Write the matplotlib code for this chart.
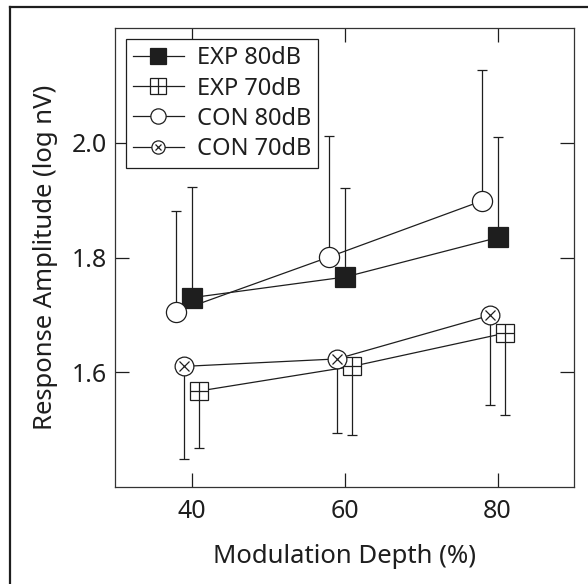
import matplotlib
matplotlib.use("Agg")
import matplotlib.pyplot as plt
import numpy as np
from matplotlib.lines import Line2D
from matplotlib.legend_handler import HandlerTuple

plt.rcParams['font.family'] = ['Noto Sans', 'DejaVu Sans']
plt.rcParams['font.weight'] = 'light'

# Modulation depth (%) and group means (log nV) with one-sided error bars
depth = [40, 60, 80]
exp80_mean = [1.730, 1.766, 1.835]
exp80_err = [0.193, 0.155, 0.176]
exp70_mean = [1.567, 1.610, 1.668]
exp70_err = [0.100, 0.120, 0.142]
con80_mean = [1.705, 1.801, 1.899]
con80_err = [0.177, 0.211, 0.228]
con70_mean = [1.610, 1.623, 1.699]
con70_err = [0.162, 0.130, 0.156]

series_labels = ["EXP 80dB", "EXP 70dB", "CON 80dB", "CON 70dB"]
x_ticks = [40, 60, 80]
y_ticks = [1.6, 1.8, 2.0]

INK = '#1e1e1e'
LW = 0.9

fig = plt.figure(figsize=(5.88, 5.84), dpi=100)
ax = fig.add_axes([0.1956, 0.1666, 0.9762 - 0.1956, 0.9515 - 0.1666])

# (mean, err, side, x-shift, main marker, size, face, overlay marker, overlay size)
series = [
    (exp80_mean, exp80_err, 'up', 0.1, 's', 14.5, INK, None, 0),
    (exp70_mean, exp70_err, 'down', 1.0, 's', 13.5, 'white', '+', 13.5),
    (con80_mean, con80_err, 'up', -2.0, 'o', 14.5, 'white', None, 0),
    (con70_mean, con70_err, 'down', -1.0, 'o', 13.5, 'white', 'x', 7.0),
]

for mean, err, side, shift, mk, ms, face, over, oms in series:
    xs = np.array(depth, dtype=float) + shift
    m = np.array(mean)
    e = np.array(err)
    z = np.zeros_like(e)
    yerr = [z, e] if side == 'up' else [e, z]
    ax.errorbar(xs, m, yerr=yerr, fmt='none', ecolor=INK, elinewidth=LW,
                capsize=3.3, capthick=LW, zorder=1.5)
    ax.plot(xs, m, '-', color=INK, lw=LW, zorder=2)
    ax.plot(xs, m, linestyle='none', marker=mk, ms=ms, mfc=face, mec=INK,
            mew=LW, zorder=3)
    if over:
        ax.plot(xs, m, linestyle='none', marker=over, ms=oms, color=INK,
                mew=LW, zorder=4)

ax.set_xlim(30, 90)
ax.set_ylim(1.4, 2.2)
ax.set_xticks(x_ticks)
ax.set_yticks(y_ticks)
ax.set_yticklabels([f"{v:.1f}" for v in y_ticks])
ax.tick_params(direction='in', length=10, width=LW, color=INK,
               top=True, right=True, labelsize=18, pad=5.5, labelcolor=INK)
ax.tick_params(axis='x', pad=9)
for s in ax.spines.values():
    s.set_linewidth(LW)
    s.set_color('#333333')

ax.set_xlabel("Modulation Depth (%)", fontsize=18.5, color=INK, labelpad=14)
ax.set_ylabel("Response Amplitude (log nV)", fontsize=18.5, color=INK, labelpad=10)

# Legend handles with the compound glyphs drawn smaller than in the plot
def handle(mk, ms, face):
    return Line2D([], [], color=INK, lw=LW, marker=mk, ms=ms, mfc=face,
                  mec=INK, mew=LW)

handles = [
    handle('s', 12, INK),
    (handle('s', 11, 'white'),
     Line2D([], [], linestyle='none', marker='+', ms=11, color=INK, mew=LW)),
    handle('o', 11, 'white'),
    (handle('o', 9.5, 'white'),
     Line2D([], [], linestyle='none', marker='x', ms=5, color=INK, mew=LW)),
]
leg = ax.legend(handles, series_labels, loc='upper left',
                bbox_to_anchor=(0.0235, 0.976), fontsize=17,
                handler_map={tuple: HandlerTuple(ndivide=1)},
                handlelength=2.15, handletextpad=0.55, labelspacing=0.26,
                borderpad=0.3, borderaxespad=0.0, fancybox=False,
                framealpha=1, edgecolor=INK)
leg.get_frame().set_linewidth(LW)
for t in leg.get_texts():
    t.set_color(INK)

# Frame lines along the top and left edges of the figure
fig.add_artist(Line2D([10 / 588, 1], [1 - 6.7 / 584] * 2, color=INK, lw=1.6,
                      transform=fig.transFigure))
fig.add_artist(Line2D([10 / 588] * 2, [0, 1 - 6.7 / 584], color=INK, lw=1.6,
                      transform=fig.transFigure))

fig.savefig("out.png", dpi=100)
